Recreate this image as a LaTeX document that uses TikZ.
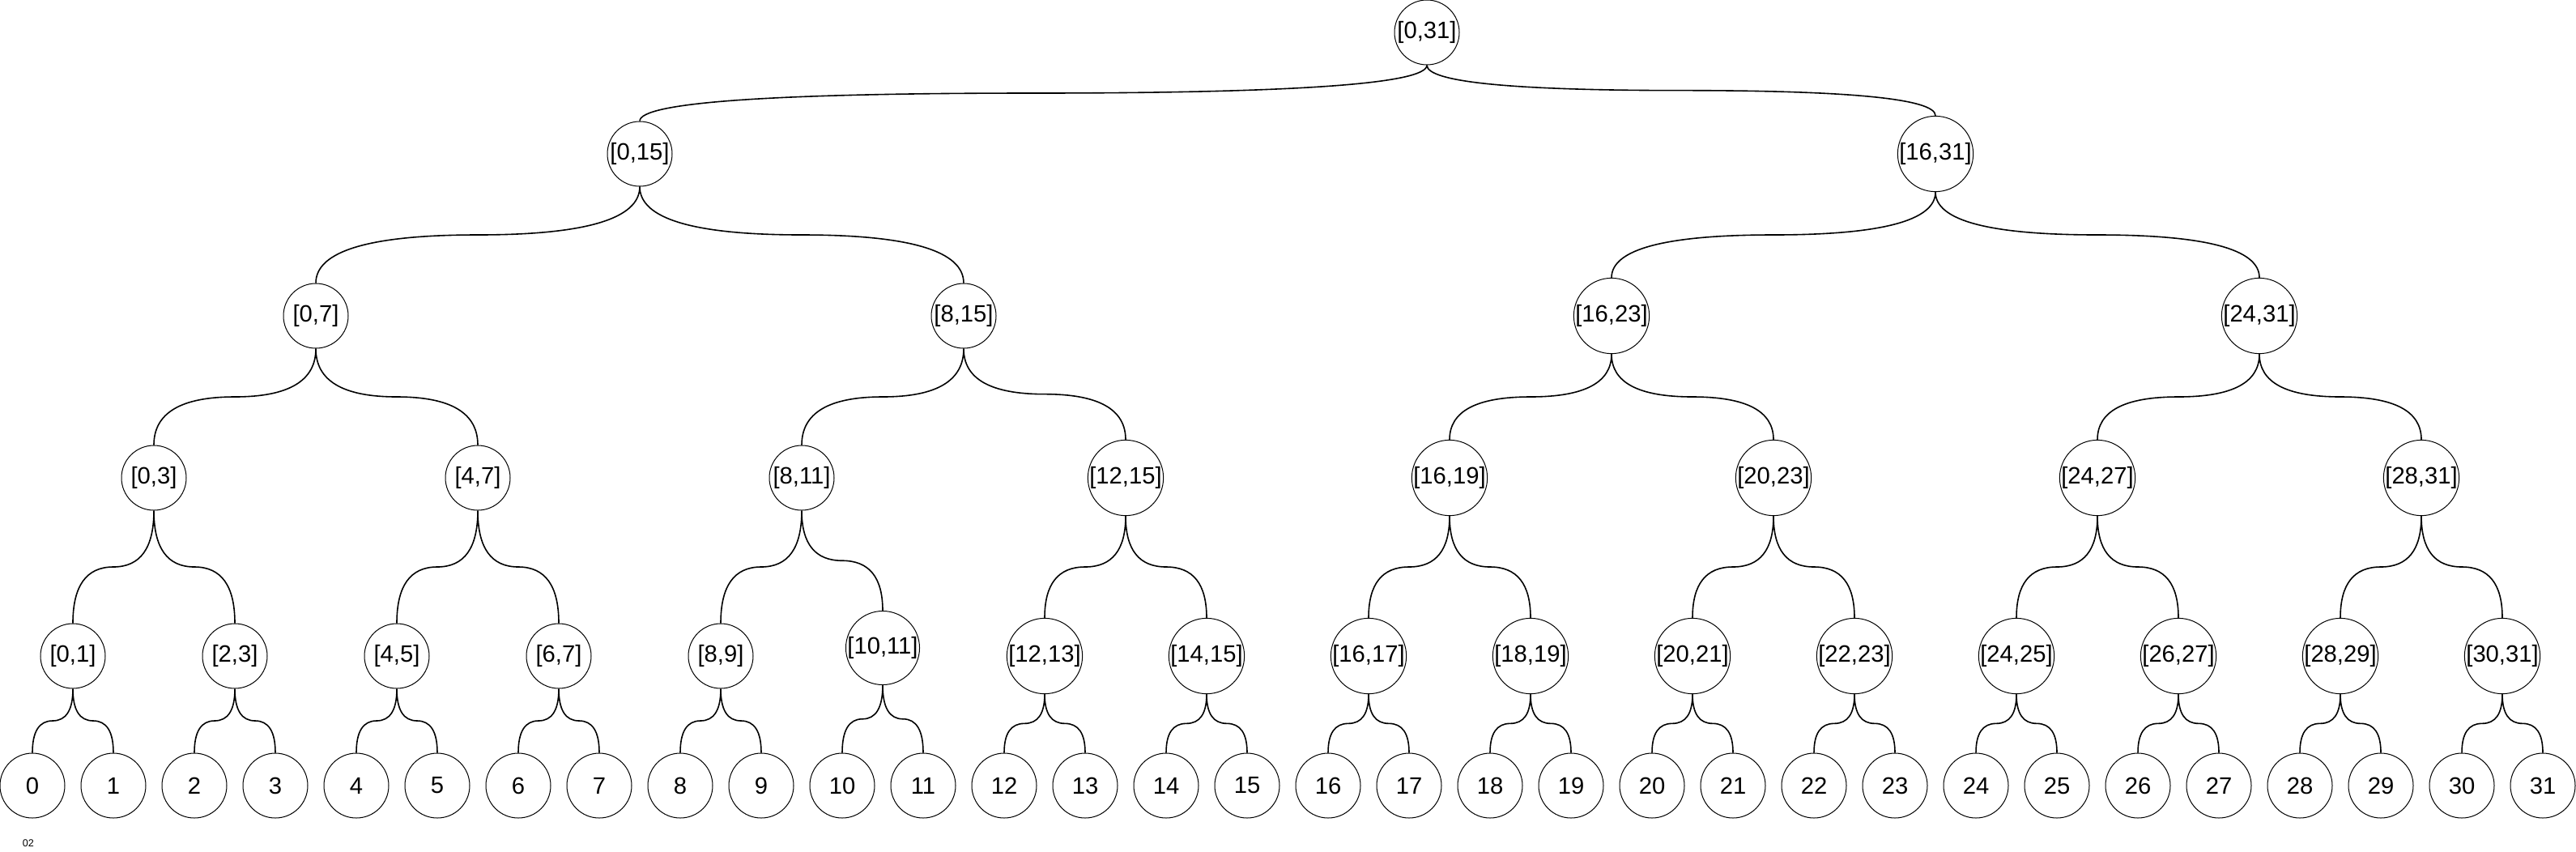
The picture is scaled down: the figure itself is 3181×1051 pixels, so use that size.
\documentclass[tikz,border=0pt]{standalone}
\usepackage{fontspec}
\setmainfont{Liberation Sans}
\usetikzlibrary{calc}

\tikzset{
  rangenode/.style={draw, circle, minimum size=20pt, inner sep=0pt, line width=0.25pt, font=\fontsize{7.3}{8}\selectfont},
  branch/.style={line width=0.25pt, to path={
    let \p1=(\tikztostart.south), \p2=(\tikztotarget.north) in
    (\p1) .. controls (\x1,{\y1+(\y2-\y1)/3}) and ({\x1+(\x2-\x1)/6},{(\y1+\y2)/2}) .. ({(\x1+\x2)/2},{(\y1+\y2)/2})
          .. controls ({\x2-(\x2-\x1)/6},{(\y1+\y2)/2}) and (\x2,{\y2-(\y2-\y1)/3}) .. (\p2)}}
}

\begin{document}
\begin{tikzpicture}[x=0.25pt, y=-0.25pt]
  \useasboundingbox (0,0) rectangle (3181,1051);
  % top levels
  \node [rangenode] (root) at (1762,40) {[0,31]};
  \node [rangenode] (d0) at (790,190) {[0,15]};
  \node [rangenode] (d1) at (2390,190) {[16,31]};
  \node [rangenode] (c0) at (390,390) {[0,7]};
  \node [rangenode] (c1) at (1190,390) {[8,15]};
  \node [rangenode] (c2) at (1990,390) {[16,23]};
  \node [rangenode] (c3) at (2790,390) {[24,31]};
  \node [rangenode] (b0) at (190,590) {[0,3]};
  \node [rangenode] (b1) at (590,590) {[4,7]};
  \node [rangenode] (b2) at (990,590) {[8,11]};
  \node [rangenode] (b3) at (1390,590) {[12,15]};
  \node [rangenode] (b4) at (1790,590) {[16,19]};
  \node [rangenode] (b5) at (2190,590) {[20,23]};
  \node [rangenode] (b6) at (2590,590) {[24,27]};
  \node [rangenode] (b7) at (2990,590) {[28,31]};
  % pairs
  \node [rangenode] (a0) at (90,810) {[0,1]};
  \node [rangenode] (a1) at (290,810) {[2,3]};
  \node [rangenode] (a2) at (490,810) {[4,5]};
  \node [rangenode] (a3) at (690,810) {[6,7]};
  \node [rangenode] (a4) at (890,810) {[8,9]};
  \node [rangenode] (a5) at (1090,800) {[10,11]};
  \node [rangenode] (a6) at (1290,810) {[12,13]};
  \node [rangenode] (a7) at (1490,810) {[14,15]};
  \node [rangenode] (a8) at (1690,810) {[16,17]};
  \node [rangenode] (a9) at (1890,810) {[18,19]};
  \node [rangenode] (a10) at (2090,810) {[20,21]};
  \node [rangenode] (a11) at (2290,810) {[22,23]};
  \node [rangenode] (a12) at (2490,810) {[24,25]};
  \node [rangenode] (a13) at (2690,810) {[26,27]};
  \node [rangenode] (a14) at (2890,810) {[28,29]};
  \node [rangenode] (a15) at (3090,810) {[30,31]};
  % leaves
  \node [rangenode] (l0) at (40,970) {0};
  \node [rangenode] (l1) at (140,970) {1};
  \node [rangenode] (l2) at (240,970) {2};
  \node [rangenode] (l3) at (340,970) {3};
  \node [rangenode] (l4) at (440,970) {4};
  \node [rangenode] (l5) at (540,970) {5};
  \node [rangenode] (l6) at (640,970) {6};
  \node [rangenode] (l7) at (740,970) {7};
  \node [rangenode] (l8) at (840,970) {8};
  \node [rangenode] (l9) at (940,970) {9};
  \node [rangenode] (l10) at (1040,970) {10};
  \node [rangenode] (l11) at (1140,970) {11};
  \node [rangenode] (l12) at (1240,970) {12};
  \node [rangenode] (l13) at (1340,970) {13};
  \node [rangenode] (l14) at (1440,970) {14};
  \node [rangenode] (l15) at (1540,970) {15};
  \node [rangenode] (l16) at (1640,970) {16};
  \node [rangenode] (l17) at (1740,970) {17};
  \node [rangenode] (l18) at (1840,970) {18};
  \node [rangenode] (l19) at (1940,970) {19};
  \node [rangenode] (l20) at (2040,970) {20};
  \node [rangenode] (l21) at (2140,970) {21};
  \node [rangenode] (l22) at (2240,970) {22};
  \node [rangenode] (l23) at (2340,970) {23};
  \node [rangenode] (l24) at (2440,970) {24};
  \node [rangenode] (l25) at (2540,970) {25};
  \node [rangenode] (l26) at (2640,970) {26};
  \node [rangenode] (l27) at (2740,970) {27};
  \node [rangenode] (l28) at (2840,970) {28};
  \node [rangenode] (l29) at (2940,970) {29};
  \node [rangenode] (l30) at (3040,970) {30};
  \node [rangenode] (l31) at (3140,970) {31};
  \node [font=\fontsize{3.15}{4}\selectfont, inner sep=0pt] (tag) at (35,1041) {02};
  % branches
  \draw (root) to[branch] (d0);
  \draw (root) to[branch] (d1);
  \draw (d0) to[branch] (c0);
  \draw (d0) to[branch] (c1);
  \draw (d1) to[branch] (c2);
  \draw (d1) to[branch] (c3);
  \draw (c0) to[branch] (b0);
  \draw (c0) to[branch] (b1);
  \draw (c1) to[branch] (b2);
  \draw (c1) to[branch] (b3);
  \draw (c2) to[branch] (b4);
  \draw (c2) to[branch] (b5);
  \draw (c3) to[branch] (b6);
  \draw (c3) to[branch] (b7);
  \draw (b0) to[branch] (a0);
  \draw (b0) to[branch] (a1);
  \draw (b1) to[branch] (a2);
  \draw (b1) to[branch] (a3);
  \draw (b2) to[branch] (a4);
  \draw (b2) to[branch] (a5);
  \draw (b3) to[branch] (a6);
  \draw (b3) to[branch] (a7);
  \draw (b4) to[branch] (a8);
  \draw (b4) to[branch] (a9);
  \draw (b5) to[branch] (a10);
  \draw (b5) to[branch] (a11);
  \draw (b6) to[branch] (a12);
  \draw (b6) to[branch] (a13);
  \draw (b7) to[branch] (a14);
  \draw (b7) to[branch] (a15);
  \draw (a0) to[branch] (l0);
  \draw (a0) to[branch] (l1);
  \draw (a1) to[branch] (l2);
  \draw (a1) to[branch] (l3);
  \draw (a2) to[branch] (l4);
  \draw (a2) to[branch] (l5);
  \draw (a3) to[branch] (l6);
  \draw (a3) to[branch] (l7);
  \draw (a4) to[branch] (l8);
  \draw (a4) to[branch] (l9);
  \draw (a5) to[branch] (l10);
  \draw (a5) to[branch] (l11);
  \draw (a6) to[branch] (l12);
  \draw (a6) to[branch] (l13);
  \draw (a7) to[branch] (l14);
  \draw (a7) to[branch] (l15);
  \draw (a8) to[branch] (l16);
  \draw (a8) to[branch] (l17);
  \draw (a9) to[branch] (l18);
  \draw (a9) to[branch] (l19);
  \draw (a10) to[branch] (l20);
  \draw (a10) to[branch] (l21);
  \draw (a11) to[branch] (l22);
  \draw (a11) to[branch] (l23);
  \draw (a12) to[branch] (l24);
  \draw (a12) to[branch] (l25);
  \draw (a13) to[branch] (l26);
  \draw (a13) to[branch] (l27);
  \draw (a14) to[branch] (l28);
  \draw (a14) to[branch] (l29);
  \draw (a15) to[branch] (l30);
  \draw (a15) to[branch] (l31);
\end{tikzpicture}
\end{document}
